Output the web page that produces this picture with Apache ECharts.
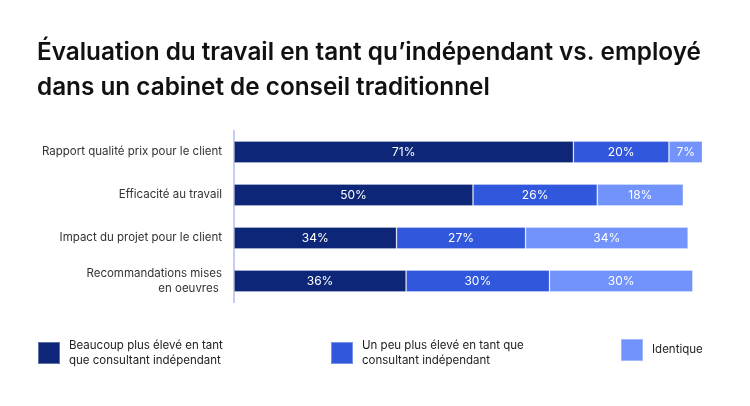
<!DOCTYPE html>
<html><head><meta charset="utf-8">
<script src="https://cdn.jsdelivr.net/npm/echarts@6/dist/echarts.min.js"></script>
<style>html,body{margin:0;padding:0;background:#fff}#c{width:750px;height:406px}</style>
</head><body><div id="c"></div>
<script>
const categories = ["Rapport qualité prix pour le client", "Efficacité au travail", "Impact du projet pour le client", "Recommandations mises\nen oeuvres "];
const seriesNames = ["Beaucoup plus élevé en tant\nque consultant indépendant", "Un peu plus élevé en tant que\nconsultant indépendant", "Identique"];
const beaucoup = [71, 50, 34, 36];
const unPeu = [20, 26, 27, 30];
const identique = [7, 18, 34, 30];
const colors = ["#0d2677", "#3157dd", "#7193fb"];

const chart = echarts.init(document.getElementById('c'), null, {renderer: 'canvas'});
const font = "Inter, 'Noto Sans', sans-serif";
function mk(name, data, color) {
  return {
    name, type: 'bar', stack: 'a', data, barWidth: 22,
    itemStyle: {color, borderColor: 'rgba(255,255,255,0.35)', borderWidth: 0.8},
    label: {show: true, position: 'inside', formatter: '{c}%', color: '#fff', fontSize: 12, fontFamily: font},
    emphasis: {disabled: true}
  };
}
const legendBase = {
  orient: 'horizontal', itemWidth: 22, itemHeight: 22, itemGap: 0, icon: 'rect', padding: 0,
  textStyle: {fontSize: 11.5, color: '#222', fontFamily: font, lineHeight: 15, padding: [0, 0, 0, 4]},
  top: 338, selectedMode: false
};
chart.setOption({
  animation: false,
  title: {
    text: "Évaluation du travail en tant qu’indépendant vs. employé\ndans un cabinet de conseil traditionnel",
    left: 32, top: 30,
    textStyle: {fontSize: 24.3, fontWeight: 600, color: '#111', fontFamily: font, lineHeight: 35}
  },
  legend: [
    Object.assign({}, legendBase, {left: 37, data: [seriesNames[0]]}),
    Object.assign({}, legendBase, {left: 330, data: [seriesNames[1]]}),
    Object.assign({}, legendBase, {left: 620, data: [seriesNames[2]]})
  ],
  grid: {left: 234, width: 478, top: 130.5, height: 172, containLabel: false},
  xAxis: {type: 'value', min: 0, max: 100, show: false},
  yAxis: {
    type: 'category', data: categories, inverse: true,
    axisLine: {show: true, lineStyle: {color: '#b3bdee', width: 1.5}},
    axisTick: {show: false},
    axisLabel: {fontSize: 11.5, color: '#333', fontFamily: font, margin: 12, lineHeight: 15}
  },
  series: [mk(seriesNames[0], beaucoup, colors[0]), mk(seriesNames[1], unPeu, colors[1]), mk(seriesNames[2], identique, colors[2])]
});
</script></body></html>
